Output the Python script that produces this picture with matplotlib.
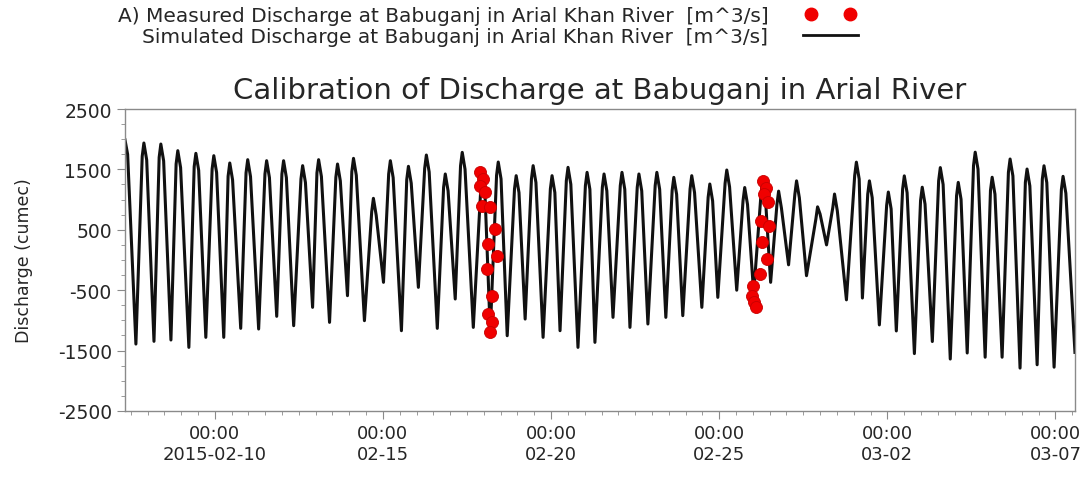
import pandas as pd
import matplotlib
matplotlib.use('Agg')
import matplotlib.pyplot as plt
import matplotlib.dates as mdates
from matplotlib.lines import Line2D
from matplotlib.legend_handler import HandlerLine2D
from matplotlib.ticker import MultipleLocator

plt.rcParams['font.family'] = ['DejaVu Sans']
plt.rcParams['axes.unicode_minus'] = False

# simulated discharge (hours after 2015-02-07 00:00, m^3/s)
sim_hours = [7.9, 9.8, 15.7,
             20.2, 21.4, 23.4, 28.6, 32.3, 33.5, 35.5, 40.7,
             44.4, 45.6, 47.6, 53.5, 57.3, 58.5, 60.5, 65.6,
             70.1, 71.3, 73.3, 78.4, 81.5, 82.7, 84.7, 90.5,
             94.3, 95.5, 97.5, 103.3, 107.8, 109.0, 111.0, 116.2,
             119.9, 121.1, 123.1, 128.3, 133.5, 134.7, 136.7, 141.8,
             144.9, 146.1, 148.1, 153.9, 158.4, 159.6, 161.6, 166.7,
             169.8, 171.0, 173.0, 178.8, 184.0, 185.2, 187.2, 192.4,
             196.1, 197.3, 199.3, 205.2, 209.0, 210.2, 212.2, 217.3,
             221.8, 223.0, 225.0, 230.8, 235.3, 236.5, 238.5, 243.6,
             247.4, 248.6, 250.6, 256.5, 261.7, 262.9, 264.9, 268.6,
             273.1, 274.3, 276.3, 280.7, 285.9, 287.1, 289.1, 293.5,
             298.0, 299.2, 301.2, 306.3, 311.5, 312.7, 314.7, 318.4,
             322.9, 324.1, 326.1, 331.2, 336.5, 337.7, 339.7, 343.3,
             348.6, 349.8, 351.8, 356.2, 361.4, 362.6, 364.6, 368.3,
             373.5, 374.7, 376.7, 381.1, 386.3, 387.5, 389.5, 393.9,
             398.4, 399.6, 401.6, 406.0, 411.2, 412.4, 414.4, 419.6,
             424.1, 425.3, 427.3, 431.0, 436.2, 437.4, 439.4, 444.5,
             449.0, 450.2, 452.2, 456.6, 461.8, 463.0, 465.0, 468.7,
             473.2, 474.4, 476.4, 481.5, 486.0, 487.2, 489.2, 494.3,
             501.0, 502.2, 504.0, 508.6, 513.1, 514.3, 516.3, 522.8,
             528.7, 529.9, 531.9, 534.2, 538.0, 539.2, 541.2, 546.3,
             551.5, 552.7, 554.7, 558.4, 562.9, 564.1, 566.1, 571.3,
             575.7, 576.9, 578.9, 584.1, 588.6, 589.8, 591.8, 596.9,
             601.4, 602.6, 604.6, 609.0, 613.5, 614.7, 616.7, 621.8,
             625.6, 626.8, 628.8, 633.9, 638.4, 639.6, 641.6, 646.7,
             650.5, 651.7, 653.7, 658.9, 662.6, 663.8, 665.8, 671.0,
             676.2, 677.4, 679.4, 685.9]
sim_q = [1990, 1750, -1392,
         1717, 1937, 1657, -1347, 1700, 1920, 1640, -1325,
         1590, 1810, 1530, -1447, 1546, 1766, 1486, -1281,
         1507, 1727, 1447, -1281, 1386, 1606, 1326, -1132,
         1441, 1661, 1381, -1143, 1424, 1644, 1364, -933,
         1424, 1644, 1364, -1088, 1342, 1562, 1282, -784,
         1441, 1661, 1381, -1033, 1369, 1589, 1309, -591,
         1463, 1683, 1403, -1005, 801, 1021, 741, -370,
         1424, 1644, 1364, -1171, 1331, 1551, 1271, -453,
         1518, 1738, 1458, -1132, 1204, 1424, 1144, -646,
         1562, 1782, 1502, -1116, 1121, 1341, 1061, -1193,
         1402, 1622, 1342, -1254, 1176, 1396, 1116, -978,
         1342, 1562, 1282, -1281, 1176, 1396, 1116, -1171,
         1314, 1534, 1254, -1447, 1231, 1451, 1171, -1364,
         1204, 1424, 1144, -950, 1231, 1451, 1171, -1116,
         1204, 1424, 1144, -1060, 1231, 1451, 1171, -950,
         1148, 1368, 1088, -922, 1176, 1396, 1116, -784,
         1038, 1258, 978, -619, 1270, 1490, 1210, -500,
         980, 1200, 920, -550, 1080, 1300, 1020, -370,
         920, 1140, 860, -80, 1090, 1310, 1030, -260,
         680, 880, 760, 250, 872, 1092, 812, -660,
         1400, 1620, 1340, -630, 1090, 1310, 1030, -1075,
         905, 1125, 845, -1175, 1173, 1393, 1113, -1550,
         985, 1205, 925, -1350, 1310, 1530, 1250, -1640,
         1065, 1285, 1005, -1540, 1565, 1785, 1505, -1610,
         1150, 1370, 1090, -1610, 1452, 1672, 1392, -1790,
         1286, 1506, 1226, -1735, 1340, 1560, 1280, -1775,
         1165, 1385, 1105, -1530]

# measured discharge (hours after 2015-02-07 00:00, m^3/s)
meas_hours = [261.4, 263.6, 261.4, 265.0, 262.9, 268.6, 272.1, 267.1, 273.6,
              266.4, 270.0, 267.1, 270.0, 268.6,
              463.0, 465.1, 463.7, 466.6, 461.6, 467.3, 462.3, 465.8, 460.9,
              455.9, 455.2, 456.6, 458.0]
meas_q = [1457, 1341, 1225, 1126, 894, 877, 513, 264, 66,
          -150, -597, -895, -1027, -1193,
          1300, 1200, 1100, 960, 650, 570, 300, 20, -230,
          -430, -600, -700, -780]

y_ticks = [-2500, -1500, -500, 500, 1500, 2500]
major_days = ['2015-02-10', '2015-02-15', '2015-02-20', '2015-02-25', '2015-03-02', '2015-03-07']
major_labels = ['00:00\n2015-02-10', '00:00\n02-15', '00:00\n02-20',
                '00:00\n02-25', '00:00\n03-02', '00:00\n03-07']

base = pd.Timestamp('2015-02-07')
sim_t = base + pd.to_timedelta(sim_hours, unit='h')
meas_t = base + pd.to_timedelta(meas_hours, unit='h')

txt = '#262626'
grey = '#8a8a8a'
fig = plt.figure(figsize=(10.82, 4.81), dpi=100)
ax = fig.add_axes([0.1155, 0.1435, 0.878, 0.6278])

ax.plot(sim_t, sim_q, color='#111111', lw=2.2, solid_joinstyle='round', zorder=2)
ax.scatter(meas_t, meas_q, s=75, color='#f00000', edgecolors='#c80000', linewidths=0.6, zorder=3)

ax.set_xlim(sim_t[0], sim_t[-1])
ax.set_ylim(-2500, 2500)
ax.set_yticks(y_ticks)
ax.yaxis.set_minor_locator(MultipleLocator(250))
ax.set_xticks(pd.to_datetime(major_days))
ax.set_xticklabels(major_labels)
ax.xaxis.set_minor_locator(mdates.HourLocator(byhour=[0, 12]))

for s in ax.spines.values():
    s.set_color(grey)
    s.set_linewidth(1.0)
ax.tick_params(which='major', direction='out', length=6, color=grey,
               labelsize=13.5, labelcolor=txt)
ax.tick_params(axis='x', which='major', labelsize=13)
ax.tick_params(which='minor', direction='out', length=3, color=grey)
ax.set_ylabel('Discharge (cumec)', fontsize=12.5, color=txt, labelpad=18)

ax.set_title('Calibration of Discharge at Babuganj in Arial River',
             fontsize=21, color=txt, pad=8)

# legend: names right-aligned, then units, then the symbol
handles = [Line2D([], [], ls='none', marker='o', ms=9, color='#f00000'),
           Line2D([], [], color='#111111', lw=2)]
labels = ['A) Measured Discharge at Babuganj in Arial Khan River  [m^3/s]',
          'Simulated Discharge at Babuganj in Arial Khan River  [m^3/s]']
fig.legend(handles, labels, loc='upper right', bbox_to_anchor=(864 / 1082, 1 - 7 / 481),
           markerfirst=False, frameon=False, numpoints=2, fontsize=14.5,
           handlelength=3.35, handletextpad=1.4, labelspacing=0.08,
           borderpad=0, borderaxespad=0, labelcolor=txt,
           handler_map={handles[0]: HandlerLine2D(marker_pad=0.72)})

fig.savefig('out.png', dpi=100)
